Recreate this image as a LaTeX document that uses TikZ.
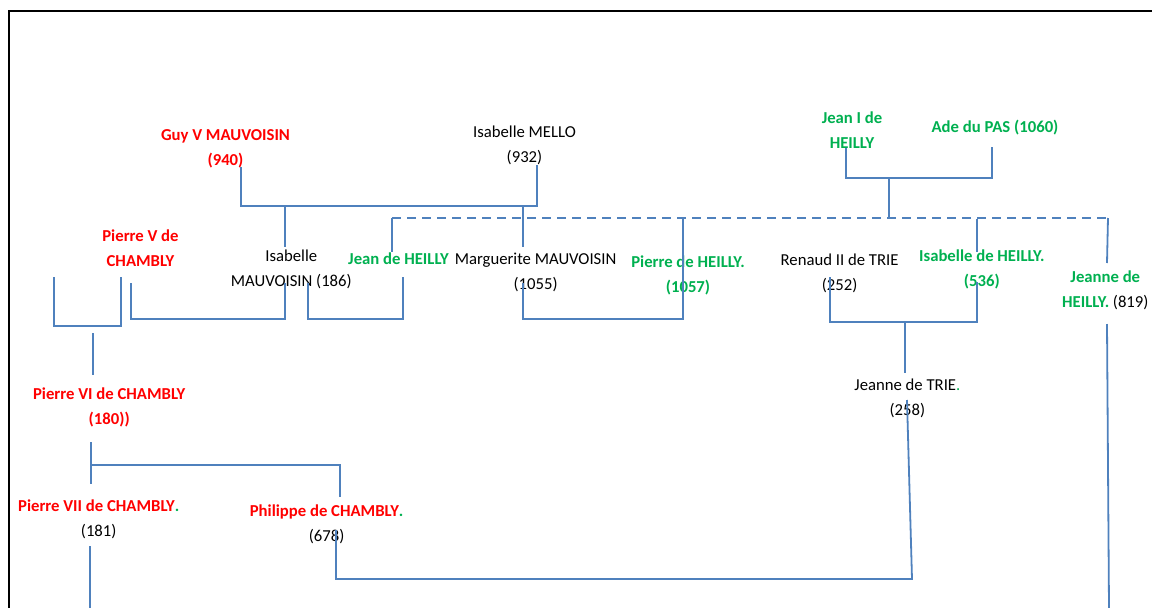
\documentclass[tikz,border=0pt]{standalone}
\usepackage{fontspec}
\setmainfont{Carlito}
\definecolor{gred}{RGB}{255,0,0}
\definecolor{ggreen}{RGB}{0,176,80}
\definecolor{lblue}{RGB}{79,129,189}
\begin{document}
\begin{tikzpicture}[x=1pt,y=-1pt,
  person/.style={inner sep=0pt,anchor=base,align=center,font=\fontsize{16.7}{25}\selectfont},
  redp/.style={person,text=gred,font=\fontsize{16.7}{25}\selectfont\bfseries},
  greenp/.style={person,text=ggreen,font=\fontsize{16.7}{25}\selectfont\bfseries},
  link/.style={draw=lblue,line width=1.8pt},
  dlink/.style={link,dash pattern=on 9pt off 6pt},
  frame/.style={draw=black,line width=2.4pt}]
\useasboundingbox (0,0) rectangle (1152,608);
\draw[frame] (9,608) -- (9,11) -- (1152,11);

% persons (base anchor = baseline of the last line)
\node[redp] (guy) at (225.5,165.5) {Guy V MAUVOISIN\\(940)};
\node[person] (mello) at (524.5,162.3) {Isabelle MELLO\\(932)};
\node[redp] (pierreV) at (140.5,266) {Pierre V de\\CHAMBLY};
\node[person] (isaM) at (291.3,286.7) {Isabelle\\MAUVOISIN (186)};
\node[greenp] (jeanH) at (398.5,264.3) {Jean de HEILLY};
\node[person] (marg) at (535.6,289.3) {Marguerite MAUVOISIN\\(1055)};
\node[greenp] (pierreH) at (688,292.7) {Pierre de HEILLY.\\(1057)};
\node[person] (renaud) at (839.6,290.7) {Renaud II de TRIE\\(252)};
\node[greenp] (isaH) at (981.8,286) {Isabelle de HEILLY.\\(536)};
\node[greenp] (jeanneH) at (1105.3,307.3) {Jeanne de\\HEILLY.\textcolor{black}{\mdseries\ (819)}};
\node[greenp] (jeanI) at (852,148.3) {Jean I de\\HEILLY};
\node[greenp] (ade) at (995,132.3) {Ade du PAS (1060)};
\node[redp] (pierreVI) at (109.2,424.7) {Pierre VI de CHAMBLY\\(180))};
\node[redp] (pierreVII) at (98.7,536.7) {Pierre VII de CHAMBLY\textcolor{ggreen}{.}\\\textcolor{black}{\mdseries(181)}};
\node[redp] (philippe) at (326.6,541.7) {Philippe de CHAMBLY\textcolor{ggreen}{.}\\\textcolor{black}{\mdseries(678)}};
\node[person] (jeanneT) at (907.4,415) {Jeanne de TRIE\textcolor{ggreen}{.}\\(258)};

% connector points
\coordinate (guyD) at (241,167);
\coordinate (melloD) at (537,165);
\coordinate (mvJ) at (389,206);
\coordinate (isaU) at (285,247);
\coordinate (margU) at (523,247);
\coordinate (isaD) at (285,283);
\coordinate (pVD) at (131,283);
\coordinate (cJ1) at (208,319);
\coordinate (lbL) at (54,277);
\coordinate (lbR) at (121,277);
\coordinate (lbJ) at (88,326);
\coordinate (pVIU1) at (93,333);
\coordinate (pVIU2) at (93,375);
\coordinate (pVID) at (91,442);
\coordinate (pVIIU) at (91,484);
\coordinate (sibJ) at (91,465);
\coordinate (philU) at (340,497);
\coordinate (pVIID) at (90,546);
\coordinate (pVIIB) at (90,608);
\coordinate (jHD) at (403,277);
\coordinate (jHL) at (308,283);
\coordinate (jHJ) at (355,319);
\coordinate (hpD1) at (846,148);
\coordinate (hpD2) at (992,147);
\coordinate (hpJ) at (889,178);
\coordinate (dL) at (392,218);
\coordinate (dJ) at (889,218);
\coordinate (dR) at (1108,218);
\coordinate (jHU) at (392,252);
\coordinate (pHU) at (683,218);
\coordinate (margD) at (523,283);
\coordinate (mpJ) at (603,319);
\coordinate (isaHU) at (977,219);
\coordinate (isaHUe) at (977,252);
\coordinate (jnHU) at (1107,263);
\coordinate (jnHD) at (1107,324);
\coordinate (jnHB) at (1109,608);
\coordinate (renD) at (830,277);
\coordinate (isaHD) at (977,282);
\coordinate (rtJ) at (905,322);
\coordinate (jTU) at (905,373);
\coordinate (jTD) at (907,400);
\coordinate (phD) at (336,530);
\coordinate (phJ) at (912,579);

% connectors
\draw[link] (guyD) |- (mvJ) -| (melloD);
\draw[link] (isaU |- mvJ) -- (isaU);
\draw[link] (margU |- mvJ) -- (margU);
\draw[link] (pVD) |- (cJ1) -| (isaD);
\draw[link] (lbL) |- (lbJ) -| (lbR);
\draw[link] (pVIU1) -- (pVIU2);
\draw[link] (pVID) -- (pVIIU);
\draw[link] (sibJ) -| (philU);
\draw[link] (pVIID) -- (pVIIB);
\draw[link] (jHL) |- (jHJ) -| (jHD);
\draw[link] (hpD1) |- (hpJ) -| (hpD2);
\draw[link] (hpJ) -- (dJ);
\draw[dlink] (dL) -- (dR);
\draw[link] (dL) -- (jHU);
\draw[link] (margD) |- (mpJ) -| (pHU);
\draw[link] (isaHU) -- (isaHUe);
\draw[link] (dR) -- (jnHU);
\draw[link] (jnHD) -- (jnHB);
\draw[link] (renD) |- (rtJ) -| (isaHD);
\draw[link] (rtJ) -- (jTU);
\draw[link] (phD) |- (phJ) -- (jTD);
\end{tikzpicture}
\end{document}
